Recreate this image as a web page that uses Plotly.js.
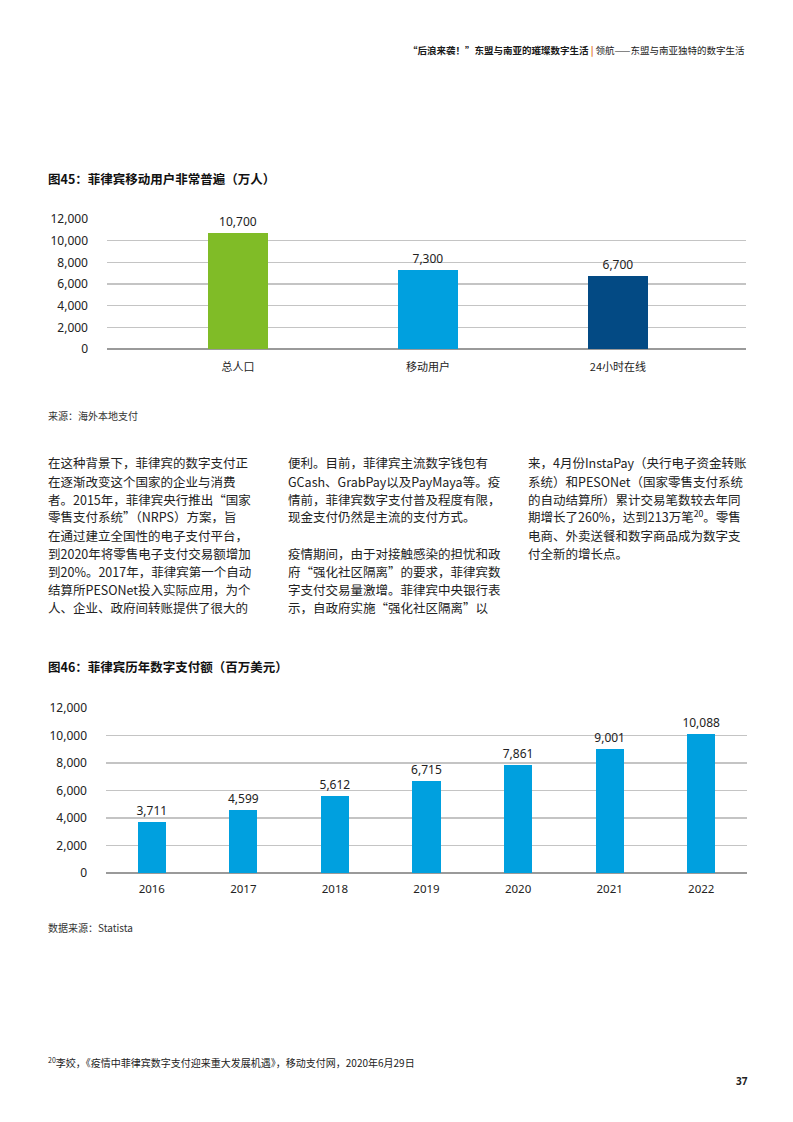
<!DOCTYPE html>
<html>
<head>
<meta charset="utf-8">
<script src="https://cdn.plot.ly/plotly-3.0.1.min.js"></script>
<style>html,body{margin:0;padding:0;background:#fff;}#chart{width:793px;height:1122px;}</style>
</head>
<body>
<div id="chart"></div>
<script>
// ---- data ----
const cats1 = ['总人口', '移动用户', '24小时在线'];
const vals1 = [10700, 7300, 6700];
const colors1 = ['#80bc27', '#00a0df', '#034a84'];

const years2 = ['2016', '2017', '2018', '2019', '2020', '2021', '2022'];
const vals2 = [3711, 4599, 5612, 6715, 7861, 9001, 10088];
const color2 = '#00a0df';

const yTicks = [0, 2000, 4000, 6000, 8000, 10000, 12000];

const headerBold = '“后浪来袭！”东盟与南亚的璀璨数字生活';
const headerSep = '|';
const headerRest = '领航——东盟与南亚独特的数字生活';
const title1 = '图45：菲律宾移动用户非常普遍（万人）';
const title2 = '图46：菲律宾历年数字支付额（百万美元）';
const source1 = '来源：海外本地支付';
const source2 = '数据来源：Statista';
const footnote = '<sup>20</sup>李姣，《疫情中菲律宾数字支付迎来重大发展机遇》，移动支付网，2020年6月29日';
const pageNo = '37';

const col1 = [
  '在这种背景下，菲律宾的数字支付正',
  '在逐渐改变这个国家的企业与消费',
  '者。2015年，菲律宾央行推出“国家',
  '零售支付系统”（NRPS）方案，旨',
  '在通过建立全国性的电子支付平台，',
  '到2020年将零售电子支付交易额增加',
  '到20%。2017年，菲律宾第一个自动',
  '结算所PESONet投入实际应用，为个',
  '人、企业、政府间转账提供了很大的'
];
const col2 = [
  '便利。目前，菲律宾主流数字钱包有',
  'GCash、GrabPay以及PayMaya等。疫',
  '情前，菲律宾数字支付普及程度有限，',
  '现金支付仍然是主流的支付方式。',
  '',
  '疫情期间，由于对接触感染的担忧和政',
  '府“强化社区隔离”的要求，菲律宾数',
  '字支付交易量激增。菲律宾中央银行表',
  '示，自政府实施“强化社区隔离”以'
];
const col3 = [
  '来，4月份InstaPay（央行电子资金转账',
  '系统）和PESONet（国家零售支付系统',
  '的自动结算所）累计交易笔数较去年同',
  '期增长了260%，达到213万笔<sup>20</sup>。零售',
  '电商、外卖送餐和数字商品成为数字支',
  '付全新的增长点。'
];

// ---- helpers ----
const W = 793, H = 1122;
const px = x => x / W;
const py = y => 1 - y / H;
const FONT = 'Noto Sans, "Noto Sans CJK SC", sans-serif';
const CJK = '"Noto Sans CJK SC", "Noto Sans", sans-serif';

const ann = [];
function addText(text, x, y, size, opts) {
  opts = opts || {};
  ann.push({
    text: text, xref: 'paper', yref: 'paper', x: px(x), y: py(y),
    xanchor: opts.xanchor || 'left', yanchor: 'middle', showarrow: false,
    align: 'left',
    font: {family: opts.family || CJK, size: size, color: opts.color || '#222'}
  });
}

// header
addText('<b>' + headerBold + '</b> <b><span style="color:#e3702a">' + headerSep + '</span></b> ' + headerRest,
        747, 50, 9.5, {xanchor: 'right', color: '#1a1a1a'});
// titles
addText('<b>' + title1 + '</b>', 46, 178, 12.5, {color: '#111'});
addText('<b>' + title2 + '</b>', 46, 666, 12.5, {color: '#111'});
// sources
addText(source1, 46, 415, 10, {color: '#333'});
addText(source2, 46, 927, 10, {color: '#333'});
// paragraphs
const lineH = 18, firstY = 463;
col1.forEach((t, i) => { if (t) addText(t, 46, firstY + i * lineH, 12.5); });
col2.forEach((t, i) => { if (t) addText(t, 286, firstY + i * lineH, 12.5); });
col3.forEach((t, i) => { if (t) addText(t, 526, firstY + i * lineH, 12.5); });
// footnote & page
addText(footnote, 46, 1062, 10, {color: '#222'});
addText('<b>' + pageNo + '</b>', 742, 1081, 10, {xanchor: 'center', family: FONT, color: '#222'});

// ---- traces ----
const trace1 = {
  type: 'bar', x: cats1, y: vals1, xaxis: 'x', yaxis: 'y',
  marker: {color: colors1, line: {width: 0}},
  width: 0.316,
  text: vals1, texttemplate: '%{y:,}', textposition: 'outside', cliponaxis: false,
  constraintext: 'none',
  textfont: {family: FONT, size: 12, color: '#222'},
  hoverinfo: 'skip'
};
const trace2 = {
  type: 'bar', x: years2, y: vals2, xaxis: 'x2', yaxis: 'y2',
  marker: {color: color2, line: {width: 0}},
  width: 0.306,
  text: vals2, texttemplate: '%{y:,}', textposition: 'outside', cliponaxis: false,
  constraintext: 'none',
  textfont: {family: FONT, size: 12, color: '#222'},
  hoverinfo: 'skip'
};

const yCommon = {
  range: [0, 12000], tickvals: yTicks, tickformat: ',',
  showgrid: true, gridcolor: '#c4c4c4', gridwidth: 1.5,
  zeroline: true, zerolinecolor: '#9a9a9a', zerolinewidth: 2,
  showline: false, ticks: '', ticklabelstandoff: 18,
  tickfont: {family: FONT, size: 12, color: '#222'},
  fixedrange: true
};

const layout = {
  width: W, height: H,
  margin: {l: 0, r: 0, t: 0, b: 0},
  paper_bgcolor: '#fff', plot_bgcolor: '#fff',
  showlegend: false,
  bargap: 0,
  xaxis: {
    domain: [px(107), px(746)], anchor: 'y', type: 'category',
    range: [-0.689, 2.674], showgrid: false, zeroline: false, showline: false,
    ticks: '', ticklabelstandoff: 10,
    tickfont: {family: CJK, size: 11, color: '#222'}, fixedrange: true
  },
  yaxis: Object.assign({}, yCommon, {domain: [py(349), py(219)], anchor: 'x'}),
  xaxis2: {
    domain: [px(106), px(747)], anchor: 'y2', type: 'category',
    range: [-0.5, 6.5], showgrid: false, zeroline: false, showline: false,
    ticks: '', ticklabelstandoff: 7,
    tickfont: {family: FONT, size: 11.5, color: '#222'}, fixedrange: true
  },
  yaxis2: Object.assign({}, yCommon, {domain: [py(873), py(708)], anchor: 'x2'}),
  annotations: ann
};

Plotly.newPlot('chart', [trace1, trace2], layout, {staticPlot: true, displayModeBar: false});
</script>
</body>
</html>
